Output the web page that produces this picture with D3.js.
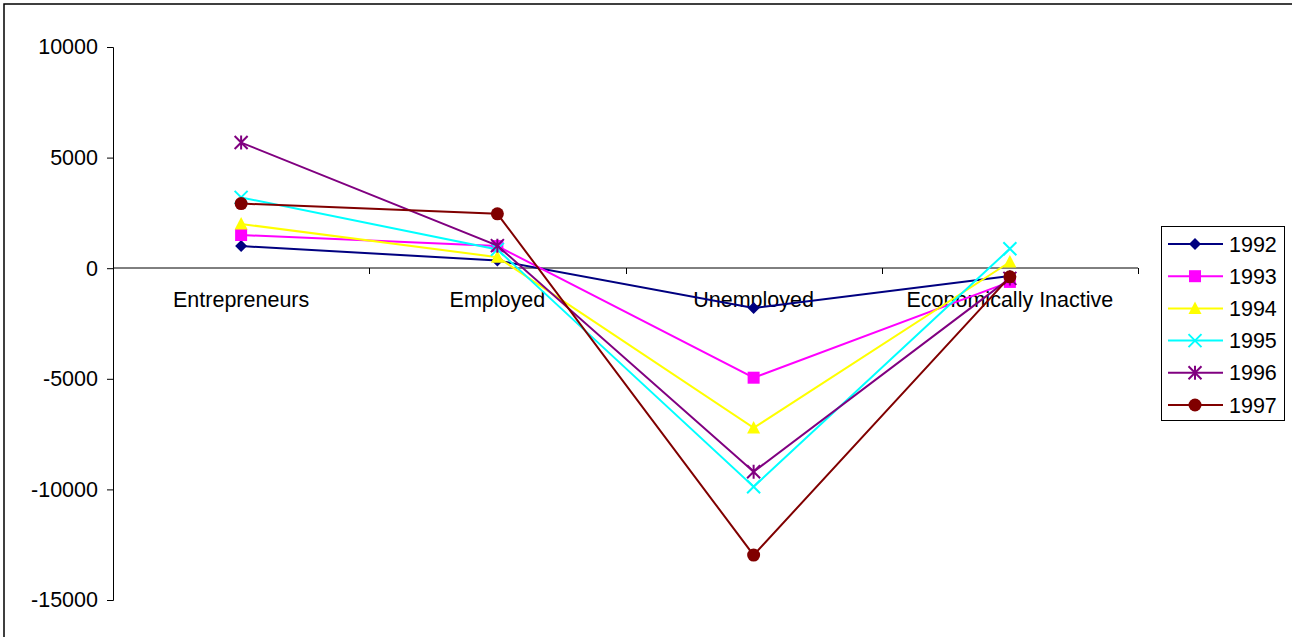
<!DOCTYPE html>
<html>
<head>
<meta charset="utf-8">
<script src="https://cdn.jsdelivr.net/npm/d3@7/dist/d3.min.js"></script>
<style>
  html, body { margin: 0; padding: 0; background: #fff; }
  svg { display: block; font-family: "Liberation Sans", Arial, sans-serif; }
</style>
</head>
<body>
<svg id="chart" width="1292" height="637"></svg>
<script>
// Change in population by economic status, by year
const categories = ["Entrepreneurs", "Employed", "Unemployed", "Economically Inactive"];
const years = ["1992", "1993", "1994", "1995", "1996", "1997"];
const v1992 = [1000, 350, -1800, -350];
const v1993 = [1500, 1000, -4950, -620];
const v1994 = [2000, 500, -7220, 280];
const v1995 = [3200, 850, -9880, 880];
const v1996 = [5680, 1020, -9200, -460];
const v1997 = [2920, 2460, -12970, -390];
const yTicks = [10000, 5000, 0, -5000, -10000, -15000];

const seriesValues = [v1992, v1993, v1994, v1995, v1996, v1997];
const colors = ["#000080", "#FF00FF", "#FFFF00", "#00FFFF", "#800080", "#800000"];
const shapes = ["diamond", "square", "triangle", "x", "star", "circle"];
const fontSize = 21.5;

const svg = d3.select("#chart");

// outer chart frame
svg.append("rect")
  .attr("x", 4).attr("y", 4)
  .attr("width", 1300).attr("height", 650)
  .attr("fill", "none").attr("stroke", "#000").attr("stroke-width", 1.5);

const plotLeft = 113, plotRight = 1138;
const x = d3.scaleBand().domain(categories).range([plotLeft, plotRight]).paddingInner(0).paddingOuter(0);
const y = d3.scaleLinear().domain([-15000, 10000]).range([600, 47]);
const cx = c => x(c) + x.bandwidth() / 2;

// y axis
const yAxis = svg.append("g")
  .attr("transform", `translate(${plotLeft},0)`)
  .call(d3.axisLeft(y).tickValues(yTicks).tickSize(6).tickSizeOuter(6)
    .tickPadding(9).tickFormat(d => String(d)));
yAxis.select(".domain").attr("stroke", "#000");
yAxis.selectAll(".tick line").attr("stroke", "#000");
yAxis.selectAll(".tick text")
  .attr("font-size", fontSize).attr("fill", "#000")
  .attr("font-family", "'Liberation Sans', Arial, sans-serif");

// category axis at zero, with ticks between categories
const y0 = Math.round(y(0));
svg.append("line")
  .attr("x1", plotLeft).attr("x2", plotRight)
  .attr("y1", y0).attr("y2", y0)
  .attr("stroke", "#000").attr("stroke-width", 1);
const boundaries = categories.map(c => x(c) + x.bandwidth());
svg.append("g").selectAll("line")
  .data(boundaries)
  .join("line")
  .attr("x1", d => Math.round(d) + 0.5).attr("x2", d => Math.round(d) + 0.5)
  .attr("y1", y0).attr("y2", y0 + 6)
  .attr("stroke", "#000");

svg.append("g").selectAll("text")
  .data(categories)
  .join("text")
  .attr("x", d => cx(d))
  .attr("y", y0 + 39)
  .attr("text-anchor", "middle")
  .attr("font-size", fontSize)
  .attr("fill", "#000")
  .text(d => d);

// marker shapes
function marker(g, shape, color) {
  if (shape === "diamond") {
    g.append("path").attr("d", "M0,-6L6,0L0,6L-6,0Z").attr("fill", color);
  } else if (shape === "square") {
    g.append("rect").attr("x", -6).attr("y", -6).attr("width", 12).attr("height", 12).attr("fill", color);
  } else if (shape === "triangle") {
    g.append("path").attr("d", "M0,-7L6.5,5.5L-6.5,5.5Z").attr("fill", color);
  } else if (shape === "x") {
    g.append("path").attr("d", "M-6.5,-6.5L6.5,6.5M6.5,-6.5L-6.5,6.5")
      .attr("stroke", color).attr("stroke-width", 2).attr("fill", "none");
  } else if (shape === "star") {
    g.append("path").attr("d", "M-6.5,-6.5L6.5,6.5M6.5,-6.5L-6.5,6.5M0,-7L0,7")
      .attr("stroke", color).attr("stroke-width", 2).attr("fill", "none");
  } else if (shape === "circle") {
    g.append("circle").attr("r", 6.5).attr("fill", color);
  }
}

const line = d3.line().x((d, i) => cx(categories[i])).y(d => y(d));

seriesValues.forEach((vals, s) => {
  const g = svg.append("g");
  g.append("path")
    .attr("d", line(vals))
    .attr("fill", "none")
    .attr("stroke", colors[s])
    .attr("stroke-width", 2);
  vals.forEach((v, i) => {
    const m = g.append("g").attr("transform", `translate(${cx(categories[i])},${y(v)})`);
    marker(m, shapes[s], colors[s]);
  });
});

// legend
const legend = svg.append("g");
legend.append("rect")
  .attr("x", 1161.5).attr("y", 226.5)
  .attr("width", 123).attr("height", 194)
  .attr("fill", "#fff").attr("stroke", "#000").attr("stroke-width", 1);
years.forEach((yr, i) => {
  const ry = 244 + i * 32.2;
  const row = legend.append("g");
  row.append("line")
    .attr("x1", 1168).attr("x2", 1223).attr("y1", ry).attr("y2", ry)
    .attr("stroke", colors[i]).attr("stroke-width", 2);
  marker(row.append("g").attr("transform", `translate(1195,${ry})`), shapes[i], colors[i]);
  row.append("text")
    .attr("x", 1229).attr("y", ry + 7.5)
    .attr("font-size", fontSize).attr("fill", "#000")
    .text(yr);
});
</script>
</body>
</html>
